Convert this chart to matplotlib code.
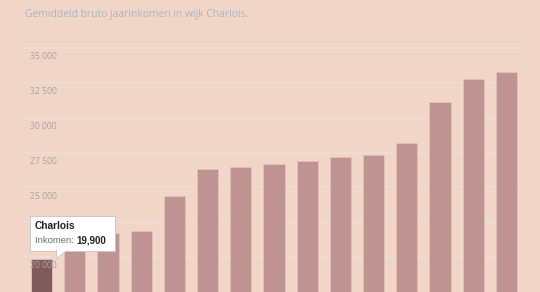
import matplotlib
matplotlib.use("Agg")
import matplotlib.pyplot as plt
from matplotlib.patches import Polygon, Rectangle

# Average gross annual income per neighbourhood (Charlois highlighted)
wijken = ["Charlois", "Feijenoord", "Delfshaven", "Noord", "IJsselmonde",
          "Centrum", "Kralingen-Crooswijk", "Overschie", "Prins Alexander",
          "Hoogvliet", "Pernis", "Hillegersberg-Schiebroek", "Rozenburg",
          "Hoek van Holland", "Rotterdam"]
inkomen = [19900, 21200, 21700, 21900, 24400, 26350, 26500, 26650, 26900,
           27150, 27350, 28200, 31150, 32800, 33300]
yticks = [20000, 22500, 25000, 27500, 30000, 32500, 35000]
highlight = "Charlois"

W, H = 540, 292
bg = "#f1d6c7"
bar_col = "#be9391"
dark_col = "#815b5b"
grid_col = "#ecdcd4"

fig = plt.figure(figsize=(W / 100, H / 100), dpi=100, facecolor=bg)
plt.rcParams['font.family'] = ['Open Sans', 'DejaVu Sans']

ax = fig.add_axes([25 / W, 0, 498 / W, (H - 48) / H])
ax.set_facecolor(bg)
ax.set_xlim(-0.5, len(wijken) - 0.5)
ax.set_ylim(17500, 35000)

for y in yticks:
    ax.axhline(y, color=grid_col, lw=1.6, zorder=1, clip_on=False)

colors = [dark_col if w == highlight else bar_col for w in wijken]
ax.bar(range(len(wijken)), inkomen, width=0.64, color=colors,
       edgecolor="#e2c3b9", linewidth=0.6, zorder=2)

for s in ax.spines.values():
    s.set_visible(False)
ax.set_xticks([])
ax.set_yticks([])

# tooltip anchored on the highlighted bar
i = wijken.index(highlight)
fig.canvas.draw()
tx, ty = ax.transData.transform((i + 0.45, inkomen[i]))
ty = H - ty  # to pixels from top
to_fig = lambda px, py: (px / W, 1 - py / H)
bx0, bx1 = tx - 27, tx + 58
by0, by1 = ty - 43, ty - 8

# y labels sit just below each gridline, left aligned (the one under the
# tooltip is hidden in the original)
for y in yticks:
    ly = H - ax.transData.transform((0, y))[1]
    if by0 - 5 < ly < by1 + 5:
        continue
    lab = f"{y:,}".replace(",", " ")
    ax.annotate(lab, (-0.5, y), xytext=(3.5, -3), textcoords="offset points",
                ha="left", va="top", fontsize=6.2, color="#a9a4a4", zorder=3)

fig.text(25 / W, 1 - 14 / H, "Gemiddeld bruto jaarinkomen in wijk Charlois.",
         fontsize=7.4, color="#a9b6c6", ha="left", va="center")

box = Rectangle(to_fig(bx0, by1), (bx1 - bx0) / W, (by1 - by0) / H,
                transform=fig.transFigure, facecolor="white",
                edgecolor="#c8c8c8", lw=0.7, zorder=10)
fig.add_artist(box)
ptr = Polygon([to_fig(tx, by1 - 0.5), to_fig(tx + 11, by1 - 0.5), to_fig(tx, ty)],
              closed=True, transform=fig.transFigure, facecolor="white",
              edgecolor="#c8c8c8", lw=0.7, zorder=11)
fig.add_artist(ptr)
fig.add_artist(Rectangle(to_fig(tx + 0.5, by1 + 0.3), 10 / W, 1.5 / H,
                         transform=fig.transFigure, facecolor="white",
                         edgecolor="none", zorder=12))
fig.text(*to_fig(bx0 + 5, by0 + 10), highlight, fontsize=7.3,
         fontweight="bold", color="#222222", ha="left", va="center",
         family=["Liberation Sans", "DejaVu Sans"], zorder=13)
t1 = fig.text(*to_fig(bx0 + 5, by0 + 25), "Inkomen: ", fontsize=6.8,
              color="#5d7a62", ha="left", va="center",
              family=["Liberation Sans", "DejaVu Sans"], zorder=13)
fig.canvas.draw()
ext = t1.get_window_extent()
fig.text(ext.x1 / W, 1 - (by0 + 25) / H, f"{inkomen[i]:,}", fontsize=7,
         fontweight="bold", color="#222222", ha="left", va="center",
         family=["Liberation Sans", "DejaVu Sans"], zorder=13)

fig.savefig("out.png", dpi=100, facecolor=bg)
